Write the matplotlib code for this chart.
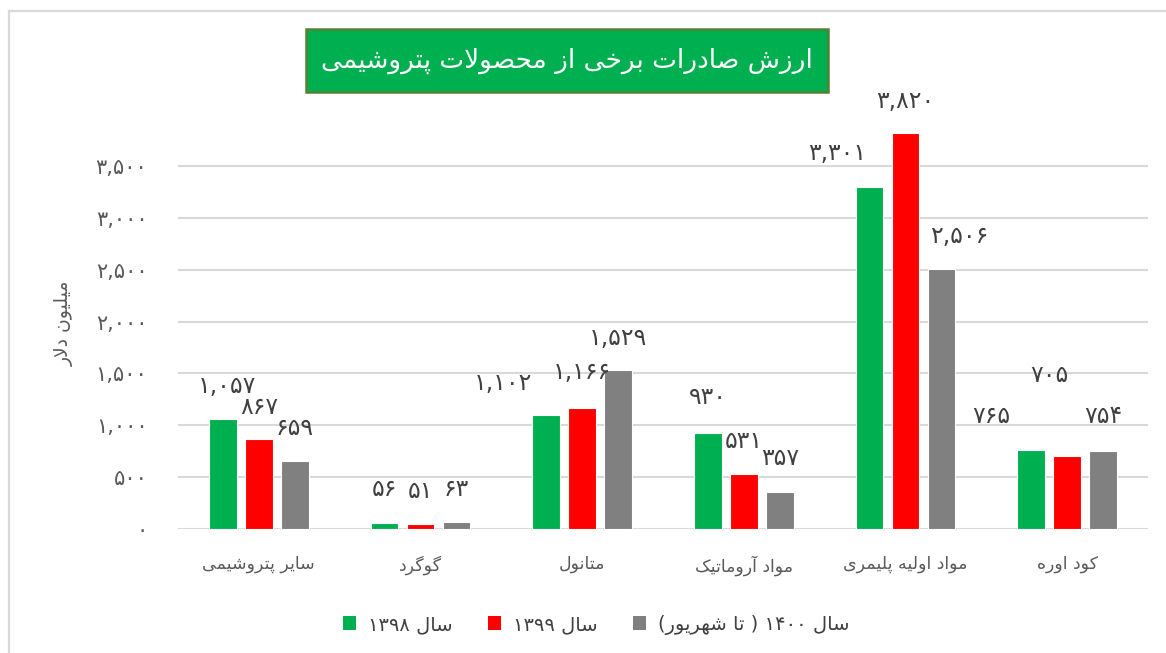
import re
import matplotlib
matplotlib.use("Agg")
import matplotlib.pyplot as plt
from matplotlib import font_manager
from matplotlib.ft2font import FT2Font
from matplotlib.patches import Rectangle
from matplotlib.lines import Line2D
import numpy as np

# ---------------- data ----------------
categories = ["سایر پتروشیمی", "گوگرد", "متانول", "مواد آروماتیک", "مواد اولیه پلیمری", "کود اوره"]
series_names = ["سال ۱۳۹۸", "سال ۱۳۹۹", "سال ۱۴۰۰ ( تا شهریور)"]
values_1398 = [1057, 56, 1102, 930, 3301, 765]
values_1399 = [867, 51, 1166, 531, 3820, 705]
values_1400 = [659, 63, 1529, 357, 2506, 754]
y_ticks = [0, 500, 1000, 1500, 2000, 2500, 3000, 3500]
title_text = "ارزش صادرات برخی از محصولات پتروشیمی"
y_label = "میلیون دلار"

colors = ["#00B050", "#FF0000", "#808080"]

# ---------------- minimal Persian shaping + bidi ----------------
FONT = "DejaVu Sans"
_cmap = FT2Font(font_manager.findfont(FONT)).get_charmap()

FORMS = {
    "\u0622": (0xFE81, 0xFE82, None, None),
    "\u0627": (0xFE8D, 0xFE8E, None, None),
    "\u0628": (0xFE8F, 0xFE90, 0xFE91, 0xFE92),
    "\u062A": (0xFE95, 0xFE96, 0xFE97, 0xFE98),
    "\u062B": (0xFE99, 0xFE9A, 0xFE9B, 0xFE9C),
    "\u062C": (0xFE9D, 0xFE9E, 0xFE9F, 0xFEA0),
    "\u062D": (0xFEA1, 0xFEA2, 0xFEA3, 0xFEA4),
    "\u062E": (0xFEA5, 0xFEA6, 0xFEA7, 0xFEA8),
    "\u062F": (0xFEA9, 0xFEAA, None, None),
    "\u0630": (0xFEAB, 0xFEAC, None, None),
    "\u0631": (0xFEAD, 0xFEAE, None, None),
    "\u0632": (0xFEAF, 0xFEB0, None, None),
    "\u0633": (0xFEB1, 0xFEB2, 0xFEB3, 0xFEB4),
    "\u0634": (0xFEB5, 0xFEB6, 0xFEB7, 0xFEB8),
    "\u0635": (0xFEB9, 0xFEBA, 0xFEBB, 0xFEBC),
    "\u0636": (0xFEBD, 0xFEBE, 0xFEBF, 0xFEC0),
    "\u0637": (0xFEC1, 0xFEC2, 0xFEC3, 0xFEC4),
    "\u0638": (0xFEC5, 0xFEC6, 0xFEC7, 0xFEC8),
    "\u0639": (0xFEC9, 0xFECA, 0xFECB, 0xFECC),
    "\u063A": (0xFECD, 0xFECE, 0xFECF, 0xFED0),
    "\u0641": (0xFED1, 0xFED2, 0xFED3, 0xFED4),
    "\u0642": (0xFED5, 0xFED6, 0xFED7, 0xFED8),
    "\u0643": (0xFED9, 0xFEDA, 0xFEDB, 0xFEDC),
    "\u0644": (0xFEDD, 0xFEDE, 0xFEDF, 0xFEE0),
    "\u0645": (0xFEE1, 0xFEE2, 0xFEE3, 0xFEE4),
    "\u0646": (0xFEE5, 0xFEE6, 0xFEE7, 0xFEE8),
    "\u0647": (0xFEE9, 0xFEEA, 0xFEEB, 0xFEEC),
    "\u0648": (0xFEED, 0xFEEE, None, None),
    "\u064A": (0xFEF1, 0xFEF2, 0xFEF3, 0xFEF4),
    "\u067E": (0xFB56, 0xFB57, 0xFB58, 0xFB59),
    "\u0686": (0xFB7A, 0xFB7B, 0xFB7C, 0xFB7D),
    "\u0698": (0xFB8A, 0xFB8B, None, None),
    "\u06A9": (0xFB8E, 0xFB8F, 0xFB90, 0xFB91),
    "\u06AF": (0xFB92, 0xFB93, 0xFB94, 0xFB95),
    "\u06CC": (0xFBFC, 0xFBFD, 0xFBFE, 0xFBFF),
}
FALLBACK = {
    "\u067E": (0xFE8F, 0xFE90, 0xFE91, 0xFE92),
    "\u0686": (0xFE9D, 0xFE9E, 0xFE9F, 0xFEA0),
    "\u06A9": (0xFED9, 0xFEDA, 0xFEDB, 0xFEDC),
    "\u06AF": (0xFED9, 0xFEDA, 0xFEDB, 0xFEDC),
    "\u06CC": (0xFEEF, 0xFEF0, 0xFEF3, 0xFEF4),
}
LAMALEF = {"\u0627": (0xFEFB, 0xFEFC), "\u0622": (0xFEF5, 0xFEF6)}


def _glyph(c, idx):
    code = FORMS[c][idx]
    if code in _cmap:
        return chr(code)
    if c in FALLBACK and FALLBACK[c][idx] in _cmap:
        return chr(FALLBACK[c][idx])
    return c


def _dual(c):
    return c in FORMS and FORMS[c][2] is not None


def shape(text):
    out = []
    n = len(text)
    i = 0
    while i < n:
        c = text[i]
        if c not in FORMS:
            out.append(c)
            i += 1
            continue
        prev = text[i - 1] if i > 0 else ""
        prev_conn = _dual(prev)
        if c == "\u0644" and i + 1 < n and text[i + 1] in LAMALEF:
            iso, fin = LAMALEF[text[i + 1]]
            out.append(chr(fin if prev_conn else iso))
            i += 2
            continue
        nxt = text[i + 1] if i + 1 < n else ""
        next_conn = _dual(c) and nxt in FORMS
        if prev_conn and next_conn:
            out.append(_glyph(c, 3))
        elif prev_conn:
            out.append(_glyph(c, 1))
        elif next_conn:
            out.append(_glyph(c, 2))
        else:
            out.append(_glyph(c, 0))
        i += 1
    return "".join(out)


_DIG = "0-9\u06F0-\u06F9\u0660-\u0669"


def fa(text):
    r = shape(text)[::-1]
    r = re.sub("[%s][%s,.]*" % (_DIG, _DIG), lambda m: m.group(0)[::-1], r)
    return r.translate({ord("("): ")", ord(")"): "("})


def fa_num(v):
    s = f"{v:,}"
    return s.translate(str.maketrans("0123456789", "۰۱۲۳۴۵۶۷۸۹"))


# ---------------- figure ----------------
plt.rcParams["font.family"] = [FONT]
W, H = 1166, 653
fig = plt.figure(figsize=(W / 100, H / 100), dpi=100)
fig.patch.set_facecolor("white")

# outer chart-area border (left and top visible)
fig.add_artist(Line2D([8.5 / W, 8.5 / W], [0, 1 - 11 / H], transform=fig.transFigure,
                      color="#D9D9D9", lw=1.6))
fig.add_artist(Line2D([8.5 / W, 1], [1 - 11 / H, 1 - 11 / H], transform=fig.transFigure,
                      color="#D9D9D9", lw=1.6))

ax_left, ax_right, ax_bottom, ax_top = 178, 1148, 529, 120
ax = fig.add_axes([ax_left / W, 1 - ax_bottom / H, (ax_right - ax_left) / W,
                   (ax_bottom - ax_top) / H])

x = np.arange(len(categories))
series = [values_1398, values_1399, values_1400]
bar_w = 0.173
step = 0.2226

# label offsets in pixels (dx, dy) per series / category
label_offsets = [
    [(4, 33), (0, 34), (-43, 32), (0, 36), (-32, 34), (-40, 34)],
    [(0, 32), (0, 33), (0, 36), (0, 33), (0, 32), (-18, 81)],
    [(0, 33), (0, 33), (0, 32), (0, 34), (18, 33), (0, 35)],
]

for k, (vals, col) in enumerate(zip(series, colors)):
    xs = x + (k - 1) * step
    ax.bar(xs, vals, width=bar_w, color=col, edgecolor="white", linewidth=0.8,
           zorder=3)
    for xi, v, (dx, dy) in zip(xs, vals, label_offsets[k]):
        ax.annotate(fa_num(v), xy=(xi, v), xytext=(dx, dy),
                    textcoords="offset pixels", ha="center", va="center",
                    fontsize=17, color="#404040", zorder=4)

ax.set_xlim(-0.5, len(categories) - 0.5)
ax.set_ylim(0, (ax_bottom - ax_top) / ((529 - 166) / 3500))
ax.set_yticks(y_ticks)
ax.set_yticklabels([fa_num(v) for v in y_ticks], fontsize=15, color="#595959")
ax.set_xticks(x)
ax.set_xticklabels([fa(c) for c in categories], fontsize=12.5, color="#595959")
ax.tick_params(axis="both", length=0)
ax.tick_params(axis="y", pad=22)
ax.tick_params(axis="x", pad=19)
for s in ax.spines.values():
    s.set_visible(False)
ax.yaxis.grid(True, color="#D9D9D9", lw=1.5, zorder=0)
ax.set_axisbelow(True)

fig.text(64 / W, 1 - 323 / H, fa(y_label), rotation=90, ha="center", va="center",
         fontsize=13.5, color="#595959")

# title box
bx0, by0, bx1, by1 = 306, 29, 828, 92
fig.add_artist(Rectangle((bx0 / W, 1 - by1 / H), (bx1 - bx0) / W, (by1 - by0) / H,
                         transform=fig.transFigure, facecolor="#00B050",
                         edgecolor="#548235", lw=1.8))
fig.text((bx0 + bx1) / 2 / W, 1 - 61 / H, fa(title_text), ha="center", va="center",
         fontsize=19, color="white")

# legend
handles = [Rectangle((0, 0), 1, 1, facecolor=c, edgecolor="none") for c in colors]
fig.legend(handles, [fa(s) for s in series_names], ncol=3, loc="center",
           bbox_to_anchor=(596 / W, 1 - 625 / H), frameon=False, fontsize=14,
           handlelength=0.7, handleheight=0.7, handletextpad=0.6,
           columnspacing=1.8, labelcolor="#404040")

fig.savefig("out.png", dpi=100)
